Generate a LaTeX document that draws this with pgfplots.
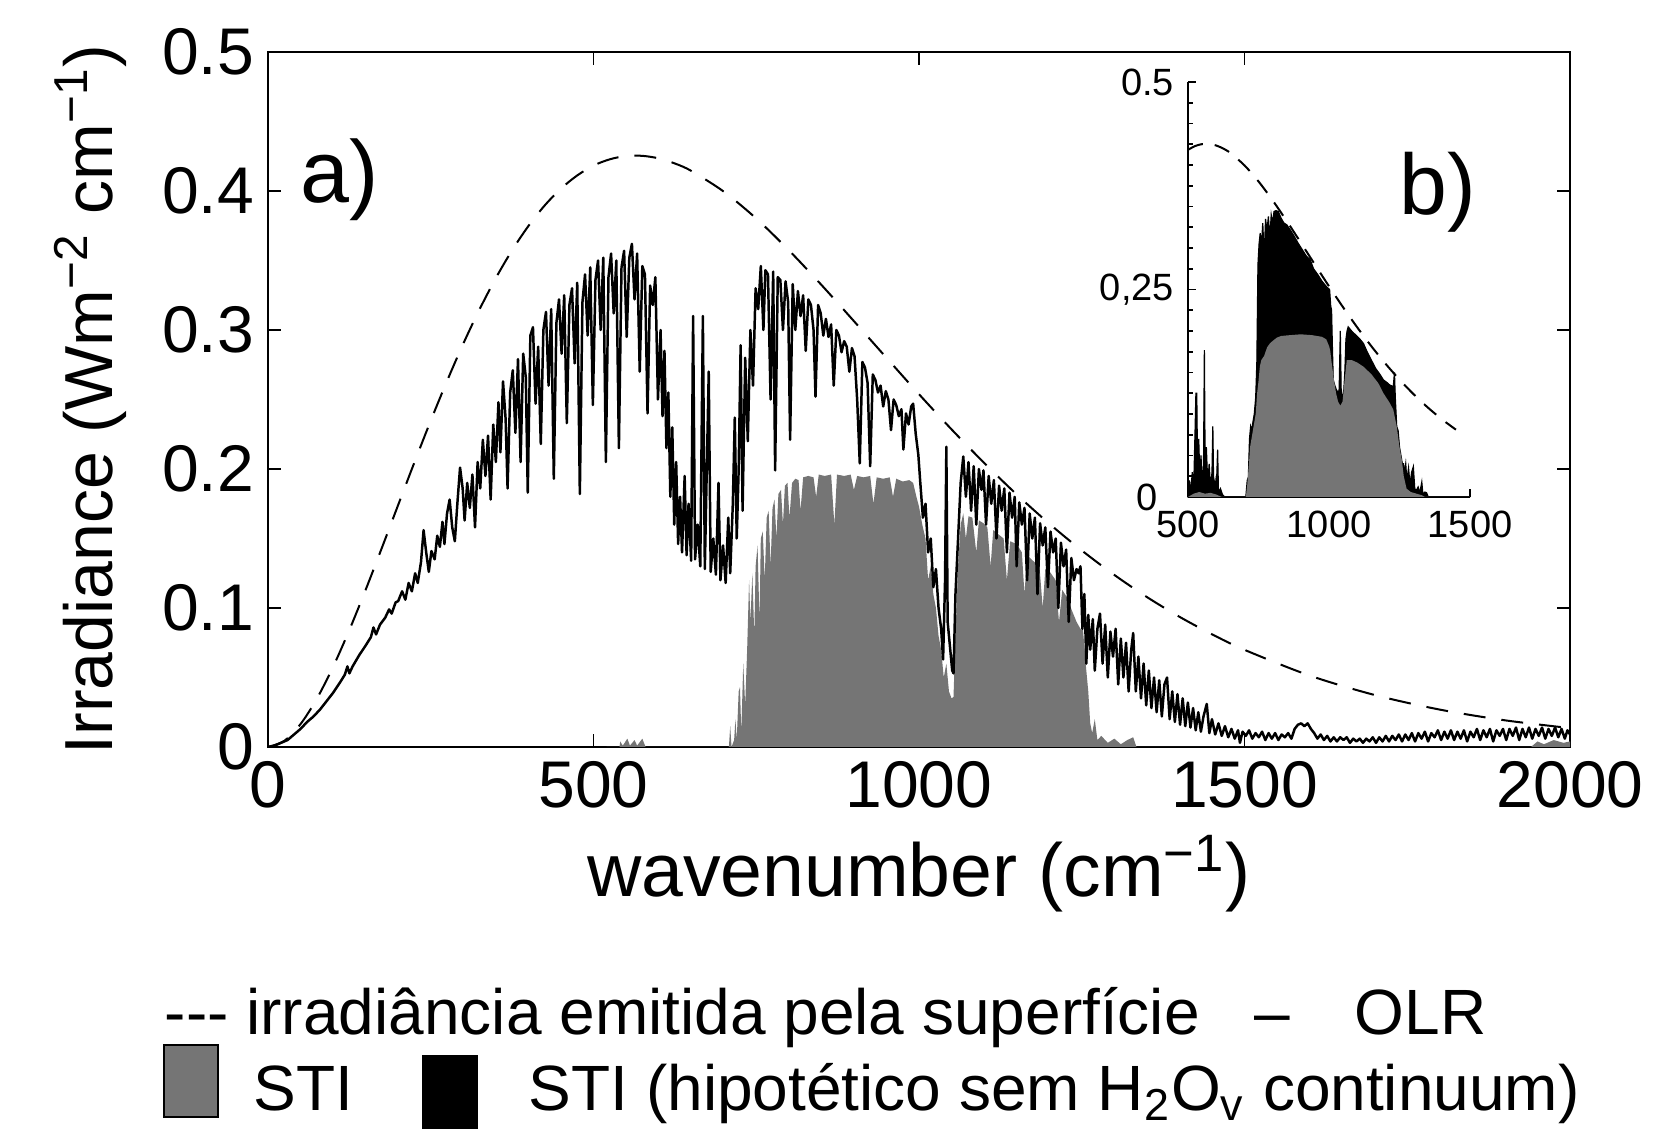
\documentclass[border=0pt]{standalone}
\usepackage{fontspec}
\setmainfont{Liberation Sans}
\usepackage{pgfplots}
\pgfplotsset{compat=1.18}
\definecolor{stigray}{gray}{0.46}
\begin{document}
\begin{tikzpicture}[x=1pt,y=1pt]
% ---------- main panel a)
\begin{axis}[
  at={(67pt,96.5pt)},anchor=south west,
  scale only axis,width=325.5pt,height=173.75pt,
  xmin=0,xmax=2000,ymin=0,ymax=0.5,
  xtick={0,500,1000,1500,2000},xticklabels={0,500,1000,1500,2000},
  ytick={0,0.1,0.2,0.3,0.4,0.5},yticklabels={0,0.1,0.2,0.3,0.4,0.5},
  tick align=inside,xtick pos=both,ytick pos=both,
  major tick length=3.2pt,
  tick style={black,line width=0.45pt},
  axis line style={line width=0.45pt},
  ticklabel style={font=\fontsize{16.5}{18}\selectfont},
  xlabel={wavenumber (cm\textsuperscript{−1})},
  ylabel={Irradiance (Wm\textsuperscript{−2} cm\textsuperscript{−1})},
  xlabel style={font=\fontsize{18.8}{21}\selectfont,at={(axis description cs:0.5,-0.2158)},anchor=base},
  ylabel style={font=\fontsize{17}{20}\selectfont,at={(axis description cs:-0.1367,0.5)},anchor=center},
]
% STI
\addplot[fill=stigray,draw=none] coordinates {
(520,0) (540,0) (541,0.004) (545,0.001) (552,0.006) (556,0.001) (563,0.005) (567,0.001) (575,0.006) (580,0)
(700,0) (708,0) (710,0.015) (712,0) (716,0.005) (718,0.02) (720,0.005) (723,0.04) (725,0.043) (727,0.01)
(730,0.06) (733,0.03) (736,0.07) (739,0.12) (741,0.09) (744,0.125) (747,0.08) (749,0.13) (752,0.145) (755,0.09)
(757,0.15) (760,0.155) (763,0.12) (766,0.165) (769,0.17) (772,0.13) (775,0.172) (778,0.178) (781,0.15) (784,0.182)
(788,0.185) (791,0.16) (794,0.188) (798,0.19) (801,0.165) (805,0.19) (810,0.193) (815,0.192) (818,0.17) (822,0.194)
(830,0.195) (838,0.194) (842,0.18) (846,0.196) (855,0.195) (865,0.196) (870,0.16) (874,0.196) (885,0.195) (895,0.196)
(900,0.185) (905,0.195) (915,0.194) (925,0.195) (930,0.175) (935,0.194) (945,0.193) (955,0.194) (960,0.18) (965,0.193)
(975,0.191) (985,0.192) (991,0.19) (996,0.18) (1000,0.173) (1005,0.16) (1010,0.15) (1014,0.12) (1018,0.13) (1022,0.11)
(1026,0.1) (1030,0.08) (1034,0.07) (1038,0.05) (1042,0.06) (1046,0.04) (1050,0.035) (1053,0.036) (1056,0.08) (1060,0.13)
(1064,0.16) (1068,0.168) (1072,0.15) (1076,0.166) (1082,0.165) (1088,0.14) (1092,0.163) (1099,0.161) (1105,0.158) (1110,0.13)
(1114,0.156) (1122,0.153) (1130,0.15) (1135,0.12) (1140,0.148) (1150,0.146) (1158,0.14) (1162,0.11) (1166,0.138) (1175,0.134)
(1185,0.13) (1190,0.1) (1194,0.128) (1201,0.126) (1210,0.12) (1215,0.09) (1220,0.113) (1227,0.108) (1235,0.098) (1242,0.09)
(1248,0.085) (1252,0.084) (1256,0.06) (1260,0.04) (1263,0.017) (1266,0.01) (1270,0.02) (1274,0.005) (1280,0.008) (1290,0.003)
(1300,0.006) (1310,0.002) (1320,0.005) (1329,0.007) (1334,0) (1940,0) (1950,0.004) (1960,0.002) (1975,0.005) (1990,0.003) (2000,0.004)
} \closedcycle;
% surface emission
\addplot[black,line width=0.5pt,dash pattern=on 5.5pt off 4pt,smooth] coordinates {
(0,0) (25,0.0044) (50,0.0165) (75,0.0347) (100,0.0577) (125,0.0842) (150,0.1131) (175,0.1434) (200,0.1742)
(225,0.2049) (250,0.2348) (275,0.2633) (300,0.2902) (325,0.3149) (350,0.3374) (375,0.3574) (400,0.3748)
(425,0.3896) (450,0.4017) (475,0.4112) (500,0.4183) (525,0.4228) (550,0.4252) (575,0.4253) (600,0.4235)
(625,0.4198) (650,0.4145) (700,0.3996) (750,0.3802) (800,0.3574) (850,0.3325) (900,0.3064) (950,0.2800)
(1000,0.2538) (1050,0.2285) (1100,0.2044) (1150,0.1817) (1200,0.1607) (1250,0.1414) (1300,0.1238) (1350,0.1079)
(1400,0.0937) (1450,0.0811) (1500,0.0699) (1600,0.0514) (1700,0.0374) (1800,0.0269) (1900,0.0192) (2000,0.0136)
};
% OLR
\addplot[black,line width=0.62pt,line join=round] coordinates {
(0,0) (10,0.001) (20,0.003) (30,0.005) (40,0.009) (50,0.013) (60,0.018) (70,0.022) (80,0.027) (90,0.033)
(100,0.039) (110,0.046) (118,0.052) (122,0.058) (125,0.053) (130,0.058) (140,0.066) (150,0.073) (158,0.079) (162,0.086)
(166,0.081) (172,0.088) (180,0.093) (186,0.099) (190,0.096) (196,0.104) (200,0.105) (206,0.112) (211,0.106) (216,0.118)
(221,0.112) (226,0.125) (230,0.118) (235,0.133) (239,0.156) (243,0.140) (247,0.126) (251,0.141) (256,0.135) (260,0.152)
(264,0.144) (268,0.162) (271,0.146) (275,0.168) (279,0.178) (283,0.158) (287,0.148) (291,0.176) (295,0.201) (299,0.186)
(302,0.163) (306,0.190) (310,0.172) (314,0.196) (318,0.158) (322,0.205) (326,0.186) (330,0.221) (334,0.195) (338,0.224)
(342,0.178) (346,0.232) (350,0.205) (354,0.248) (357,0.212) (361,0.263) (365,0.236) (368,0.186) (372,0.255) (376,0.271)
(380,0.226) (384,0.279) (388,0.205) (392,0.283) (396,0.266) (399,0.183) (403,0.296) (407,0.302) (411,0.247) (415,0.288)
(419,0.218) (423,0.300) (427,0.313) (431,0.260) (435,0.315) (439,0.193) (443,0.305) (447,0.322) (451,0.283) (455,0.325)
(459,0.233) (463,0.318) (467,0.330) (471,0.276) (475,0.334) (479,0.182) (483,0.320) (487,0.340) (491,0.296) (495,0.345)
(499,0.246) (503,0.336) (507,0.350) (511,0.300) (515,0.352) (519,0.205) (523,0.338) (527,0.355) (531,0.312) (535,0.350)
(539,0.215) (543,0.345) (547,0.357) (551,0.295) (555,0.352) (559,0.362) (563,0.322) (567,0.355) (571,0.270) (575,0.346)
(579,0.340) (583,0.240) (587,0.332) (591,0.318) (595,0.338) (599,0.250) (603,0.300) (606,0.238) (609,0.285) (612,0.215)
(615,0.255) (618,0.180) (621,0.230) (624,0.160) (627,0.205) (630,0.146) (633,0.180) (636,0.140) (640,0.195) (643,0.138)
(646,0.175) (650,0.134) (653,0.310) (656,0.135) (660,0.160) (664,0.130) (668,0.310) (671,0.128) (674,0.200) (677,0.270)
(680,0.126) (684,0.150) (688,0.124) (692,0.190) (695,0.120) (699,0.145) (703,0.118) (707,0.165) (710,0.125) (714,0.175)
(717,0.237) (720,0.150) (723,0.200) (726,0.289) (729,0.170) (733,0.280) (737,0.220) (741,0.300) (745,0.260) (749,0.330)
(753,0.315) (757,0.346) (761,0.300) (764,0.343) (768,0.340) (772,0.250) (776,0.342) (779,0.199) (783,0.338) (787,0.336)
(791,0.300) (795,0.335) (799,0.320) (802,0.221) (806,0.333) (810,0.300) (814,0.328) (818,0.310) (822,0.325) (826,0.285)
(830,0.322) (834,0.318) (838,0.300) (841,0.252) (845,0.318) (849,0.312) (853,0.296) (857,0.308) (861,0.295) (865,0.304)
(869,0.260) (873,0.300) (877,0.296) (881,0.284) (885,0.292) (889,0.288) (893,0.270) (897,0.287) (901,0.281) (905,0.250)
(909,0.204) (913,0.277) (917,0.273) (921,0.262) (925,0.202) (929,0.268) (933,0.264) (937,0.255) (941,0.260) (945,0.245)
(949,0.256) (953,0.250) (957,0.228) (961,0.250) (965,0.246) (969,0.238) (973,0.243) (976,0.214) (980,0.240) (984,0.232)
(988,0.245) (991,0.247) (995,0.225) (999,0.210) (1002,0.190) (1006,0.165) (1010,0.175) (1014,0.140) (1018,0.150) (1022,0.115)
(1026,0.128) (1030,0.100) (1034,0.085) (1037,0.063) (1040,0.120) (1042,0.216) (1044,0.090) (1048,0.070) (1051,0.055) (1053,0.053)
(1056,0.110) (1060,0.150) (1064,0.190) (1068,0.209) (1072,0.180) (1076,0.205) (1080,0.170) (1084,0.202) (1088,0.160) (1092,0.200)
(1096,0.185) (1099,0.199) (1103,0.160) (1107,0.195) (1111,0.175) (1115,0.192) (1119,0.150) (1123,0.188) (1127,0.170) (1131,0.186)
(1135,0.140) (1139,0.183) (1143,0.165) (1147,0.180) (1150,0.130) (1154,0.176) (1158,0.160) (1162,0.172) (1166,0.120) (1170,0.168)
(1174,0.150) (1178,0.165) (1182,0.110) (1186,0.161) (1190,0.145) (1194,0.158) (1198,0.115) (1202,0.155) (1206,0.140) (1210,0.150)
(1214,0.100) (1218,0.147) (1222,0.130) (1226,0.142) (1230,0.090) (1234,0.136) (1238,0.120) (1242,0.128) (1245,0.125) (1248,0.130)
(1251,0.085) (1254,0.110) (1257,0.060) (1260,0.095) (1263,0.070) (1267,0.092) (1270,0.055) (1274,0.085) (1278,0.096) (1282,0.060)
(1286,0.088) (1290,0.050) (1294,0.083) (1298,0.065) (1302,0.085) (1306,0.045) (1310,0.078) (1314,0.050) (1318,0.075) (1322,0.040)
(1326,0.070) (1329,0.082) (1333,0.040) (1337,0.065) (1341,0.035) (1345,0.060) (1349,0.030) (1353,0.055) (1357,0.028) (1361,0.050)
(1365,0.025) (1369,0.048) (1373,0.022) (1377,0.045) (1381,0.050) (1385,0.020) (1389,0.040) (1393,0.018) (1397,0.038) (1401,0.016)
(1405,0.035) (1409,0.015) (1413,0.032) (1417,0.014) (1421,0.028) (1425,0.012) (1429,0.025) (1433,0.011) (1437,0.022) (1442,0.031)
(1446,0.010) (1450,0.020) (1455,0.009) (1460,0.017) (1465,0.008) (1470,0.015) (1475,0.007) (1480,0.013) (1485,0.006) (1490,0.012)
(1493,0.003) (1497,0.011) (1502,0.008) (1507,0.012) (1512,0.006) (1517,0.010) (1522,0.007) (1527,0.011) (1532,0.005) (1537,0.010)
(1542,0.006) (1547,0.010) (1552,0.005) (1557,0.009) (1562,0.007) (1567,0.010) (1572,0.006) (1577,0.013) (1582,0.016) (1587,0.017)
(1592,0.015) (1597,0.017) (1602,0.013) (1607,0.010) (1612,0.006) (1617,0.009) (1622,0.005) (1627,0.008) (1632,0.004) (1637,0.007)
(1642,0.004) (1647,0.007) (1652,0.005) (1657,0.007) (1662,0.003) (1667,0.006) (1672,0.004) (1677,0.006) (1682,0.003) (1687,0.006)
(1692,0.004) (1697,0.007) (1702,0.003) (1707,0.007) (1712,0.004) (1717,0.008) (1722,0.004) (1727,0.008) (1732,0.005) (1737,0.009)
(1742,0.004) (1747,0.009) (1752,0.005) (1757,0.010) (1762,0.004) (1767,0.010) (1772,0.006) (1777,0.011) (1782,0.004) (1787,0.010)
(1792,0.007) (1797,0.012) (1802,0.005) (1807,0.011) (1812,0.006) (1817,0.012) (1822,0.005) (1827,0.011) (1832,0.006) (1837,0.012)
(1842,0.004) (1847,0.011) (1852,0.007) (1857,0.013) (1862,0.005) (1867,0.012) (1872,0.007) (1877,0.013) (1882,0.004) (1887,0.012)
(1892,0.008) (1897,0.013) (1902,0.005) (1907,0.013) (1912,0.008) (1917,0.014) (1922,0.005) (1927,0.013) (1932,0.007) (1937,0.014)
(1942,0.006) (1947,0.013) (1952,0.008) (1957,0.014) (1962,0.006) (1967,0.013) (1972,0.008) (1977,0.014) (1982,0.007) (1987,0.013)
(1992,0.006) (1996,0.012) (2000,0.009)
};
\node[font=\fontsize{22}{24}\selectfont] at (rel axis cs:0.0553,0.816) {a)};
\end{axis}
% ---------- inset b)
\begin{axis}[
  at={(297pt,159pt)},anchor=south west,
  scale only axis,width=70.5pt,height=103.75pt,
  xmin=500,xmax=1500,ymin=0,ymax=0.5,clip=false,
  axis x line=bottom,axis y line=left,
  axis line style={-,line width=0.45pt},
  xtick={500,1000,1500},xticklabels={500,1000,1500},
  ytick={0.25,0.5},yticklabels={{0,25},0.5},
  minor ytick={0.025,0.05,0.075,0.1,0.125,0.15,0.175,0.2,0.225,0.275,0.3,0.325,0.35,0.375,0.4,0.425,0.45,0.475},
  tick align=inside,
  major tick length=2pt,minor tick length=1.2pt,
  tick style={black,line width=0.4pt},
  ticklabel style={font=\fontsize{9.5}{10}\selectfont},
]
\addplot[fill=black,draw=black,line width=0.3pt] coordinates {
(500,0) (505,0.02) (510,0.005) (515,0.03) (520,0.01) (525,0.08) (528,0.125) (531,0.125) (534,0.03) (538,0.07)
(542,0.02) (546,0.05) (550,0.015) (555,0.04) (558,0.177) (561,0.02) (565,0.06) (570,0.015) (575,0.04) (580,0.01)
(585,0.03) (588,0.085) (591,0.01) (596,0.02) (600,0.005) (605,0.057) (608,0.005) (615,0.01) (622,0.003) (630,0)
(705,0) (710,0.02) (714,0.024) (718,0.07) (722,0.085) (726,0.08) (730,0.09) (735,0.1) (740,0.12) (744,0.161)
(748,0.28) (752,0.305) (756,0.318) (760,0.3) (765,0.33) (770,0.29) (775,0.335) (780,0.32) (785,0.338) (790,0.31)
(795,0.34) (800,0.33) (805,0.344) (812,0.345) (820,0.344) (830,0.336) (840,0.33) (850,0.328) (862,0.322) (875,0.315)
(890,0.306) (905,0.298) (920,0.29) (933,0.286) (945,0.275) (960,0.268) (975,0.26) (992,0.253) (1002,0.25) (1006,0.23)
(1009,0.225) (1012,0.18) (1015,0.141) (1020,0.135) (1025,0.13) (1033,0.125) (1036,0.13) (1040,0.2) (1043,0.13) (1048,0.12)
(1051,0.12) (1056,0.15) (1060,0.19) (1064,0.2) (1068,0.205) (1080,0.2) (1095,0.195) (1110,0.19) (1122,0.185) (1135,0.175)
(1150,0.165) (1165,0.155) (1180,0.148) (1193,0.141) (1205,0.138) (1215,0.135) (1228,0.133) (1232,0.15) (1235,0.12) (1240,0.085)
(1245,0.08) (1250,0.06) (1255,0.05) (1260,0.04) (1264,0.04) (1268,0.03) (1272,0.04) (1276,0.02) (1282,0.035) (1287,0.015)
(1293,0.03) (1299,0.0365) (1304,0.01) (1310,0.008) (1316,0.012) (1322,0.005) (1329,0.018) (1333,0.003) (1340,0.006) (1346,0.005)
(1352,0) (1500,0)
} \closedcycle;
\addplot[fill=stigray,draw=none] coordinates {
(500,0) (520,0.004) (540,0.006) (560,0.004) (580,0.005) (600,0.003) (620,0) (705,0) (710,0.015) (716,0.04)
(720,0.06) (725,0.07) (730,0.08) (740,0.1) (745,0.125) (750,0.14) (755,0.158) (760,0.165) (770,0.17) (780,0.18)
(790,0.185) (800,0.188) (815,0.192) (830,0.194) (862,0.195) (900,0.196) (940,0.195) (975,0.193) (990,0.19) (1000,0.182)
(1004,0.177) (1010,0.16) (1018,0.14) (1025,0.125) (1032,0.115) (1040,0.11) (1048,0.115) (1055,0.14) (1063,0.165) (1080,0.165)
(1100,0.162) (1122,0.157) (1150,0.148) (1175,0.137) (1193,0.125) (1216,0.113) (1228,0.105) (1240,0.085) (1250,0.06) (1258,0.045)
(1265,0.025) (1275,0.01) (1290,0.006) (1310,0.004) (1330,0.002) (1340,0) (1500,0)
} \closedcycle;
\addplot[black,line width=0.5pt,dash pattern=on 4pt off 3pt,smooth] coordinates {
(500,0.4183) (525,0.4228) (550,0.4252) (575,0.4253) (600,0.4235) (625,0.4198) (650,0.4145) (700,0.3996) (750,0.3802)
(800,0.3574) (850,0.3325) (900,0.3064) (950,0.2800) (1000,0.2538) (1050,0.2285) (1100,0.2044) (1150,0.1817)
(1200,0.1607) (1250,0.1414) (1300,0.1238) (1350,0.1079) (1400,0.0937) (1450,0.0811)
};
\node[font=\fontsize{9.5}{10}\selectfont] at (rel axis cs:-0.145,0) {0};
\node[font=\fontsize{21.5}{24}\selectfont] at (rel axis cs:0.887,0.735) {b)};
\end{axis}
% ---------- legend text below the panels
\node[anchor=base west,inner sep=0pt,font=\fontsize{16}{18}\selectfont] at (41,24.75) {-{}-{}- irradiância emitida pela superfície};
\node[anchor=base west,inner sep=0pt,font=\fontsize{16}{18}\selectfont] at (313.5,24.75) {–};
\node[anchor=base west,inner sep=0pt,font=\fontsize{16}{18}\selectfont] at (338.5,24.75) {OLR};
\filldraw[fill=stigray,draw=black,line width=0.4pt] (41,4) rectangle (54.5,22);
\node[anchor=base west,inner sep=0pt,font=\fontsize{16}{18}\selectfont] at (63.25,5.75) {STI};
\fill[black] (105.5,1) rectangle (119.5,19.5);
\node[anchor=base west,inner sep=0pt,font=\fontsize{16}{18}\selectfont] at (132,5.75) {STI (hipotético sem H\textsubscript{2}O\textsubscript{v} continuum)};
\pgfresetboundingbox
\useasboundingbox (0,0) rectangle (413.75,283.25);
\end{tikzpicture}
\end{document}
